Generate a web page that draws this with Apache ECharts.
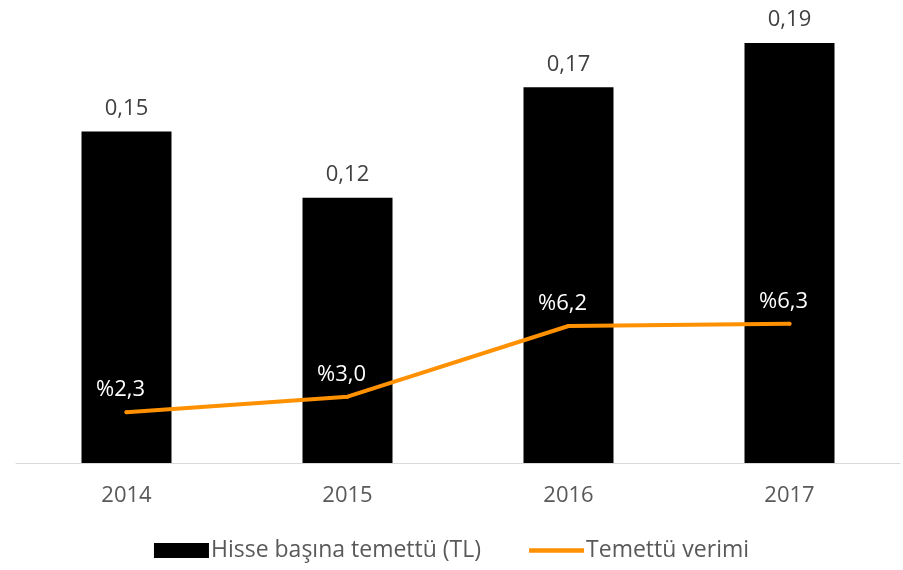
<!DOCTYPE html>
<html>
<head>
<meta charset="utf-8">
<script src="https://cdn.jsdelivr.net/npm/echarts@6/dist/echarts.min.js"></script>
<style>
  html, body { margin: 0; padding: 0; background: #fff; }
  #chart { width: 903px; height: 570px; }
</style>
</head>
<body>
<div id="chart"></div>
<script>
  // data
  var years = ['2014', '2015', '2016', '2017']
  var dividend = [0.15, 0.12, 0.17, 0.19]
  var dividendLabels = ['0,15', '0,12', '0,17', '0,19']
  var yieldPct = [2.3, 3.0, 6.2, 6.3]
  var yieldLabels = ['%2,3', '%3,0', '%6,2', '%6,3']

  var font = '"Open Sans", "Noto Sans", sans-serif'
  var chart = echarts.init(document.getElementById('chart'))

  chart.setOption({
    animation: false,
    textStyle: { fontFamily: font },
    grid: { left: 16, right: 3, top: 21, bottom: 107 },
    legend: {
      bottom: 3,
      itemGap: 48,
      itemWidth: 55,
      itemHeight: 15,
      textStyle: { fontSize: 23, color: '#595959', fontFamily: font, padding: [0, 0, 0, -3] },
      data: [
        { name: 'Hisse başına temettü (TL)', icon: 'rect' },
        { name: 'Temettü verimi', icon: 'path://M0,0 L10,0 L10,0.8 L0,0.8 Z', itemStyle: { color: '#ff9100' } }
      ]
    },
    xAxis: {
      type: 'category',
      data: years,
      axisLine: { lineStyle: { color: '#d9d9d9', width: 1 } },
      axisTick: { show: false },
      axisLabel: { fontSize: 22, color: '#595959', margin: 22 }
    },
    yAxis: [
      { type: 'value', min: 0, max: 0.2, show: false },
      { type: 'value', min: 0, max: 20, show: false }
    ],
    series: [
      {
        name: 'Hisse başına temettü (TL)',
        type: 'bar',
        data: dividend,
        barWidth: 90,
        itemStyle: { color: '#000' },
        label: {
          show: true,
          position: 'top',
          distance: 12,
          fontSize: 22,
          color: '#404040',
          formatter: function (p) { return dividendLabels[p.dataIndex] }
        }
      },
      {
        name: 'Temettü verimi',
        type: 'line',
        yAxisIndex: 1,
        data: yieldPct,
        symbol: 'circle',
        symbolSize: 4,
        lineStyle: { color: '#ff9100', width: 4, cap: 'round', join: 'round' },
        itemStyle: { color: '#ff9100' },
        label: {
          show: true,
          position: 'top',
          distance: 9,
          offset: [-6, 0],
          fontSize: 22,
          color: '#fff',
          formatter: function (p) { return yieldLabels[p.dataIndex] }
        }
      }
    ]
  })
</script>
</body>
</html>
